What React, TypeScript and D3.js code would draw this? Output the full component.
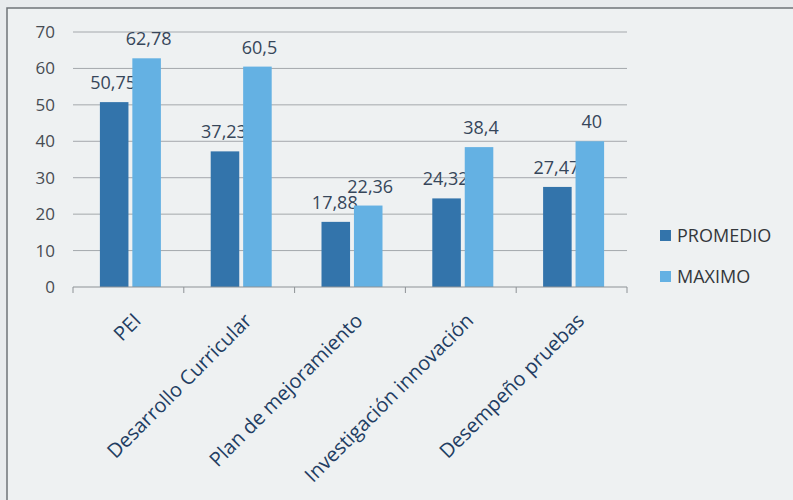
import React, { useEffect, useRef } from 'react';
import * as d3 from 'd3';

const categories = ['PEI', 'Desarrollo Curricular', 'Plan de mejoramiento', 'Investigación innovación', 'Desempeño pruebas'];
const promedio = [50.75, 37.23, 17.88, 24.32, 27.47];
const maximo = [62.78, 60.5, 22.36, 38.4, 40];
const promedioLabels = ['50,75', '37,23', '17,88', '24,32', '27,47'];
const maximoLabels = ['62,78', '60,5', '22,36', '38,4', '40'];
const seriesNames = ['PROMEDIO', 'MAXIMO'];
const yTicks = [0, 10, 20, 30, 40, 50, 60, 70];

const colors = ['#3374ab', '#64b1e3'];
const font = '"Open Sans", Lato, sans-serif';

const App = () => {
    const svgRef = useRef<SVGSVGElement | null>(null);
    const width = 793;
    const height = 500;

    useEffect(() => {
        if (!svgRef.current) return;
        const svg = d3.select(svgRef.current);
        svg.selectAll('*').remove();

        // background + frame
        svg.append('rect').attr('width', width).attr('height', height).attr('fill', '#e8ebed');
        svg.append('rect').attr('x', 7).attr('y', 8).attr('width', width).attr('height', height)
            .attr('fill', '#eef1f2').attr('stroke', '#6f7478').attr('stroke-width', 1.5);

        const left = 73, right = 627, top = 32, bottom = 287;

        const y = d3.scaleLinear().domain([0, 70]).range([bottom, top]);
        const x = d3.scaleBand<string>().domain(categories).range([left, right]).paddingInner(0).paddingOuter(0);
        const inner = d3.scaleBand<string>().domain(seriesNames).range([0, 61]).paddingInner(0.12);
        const groupOffset = (x.bandwidth() - 61) / 2 + 2;

        // gridlines
        svg.append('g').selectAll('line').data(yTicks.filter(t => t > 0)).enter().append('line')
            .attr('x1', left).attr('x2', right)
            .attr('y1', d => y(d)).attr('y2', d => y(d))
            .attr('stroke', '#a4a8ac').attr('stroke-width', 1);

        // y tick labels
        svg.append('g').selectAll('text').data(yTicks).enter().append('text')
            .attr('x', 55).attr('y', d => y(d)).attr('dy', '0.35em')
            .attr('text-anchor', 'end')
            .attr('font-family', font).attr('font-size', 17).attr('fill', '#474c52')
            .text(d => d);

        // bars
        const seriesData = [promedio, maximo];
        const seriesLabels = [promedioLabels, maximoLabels];
        seriesNames.forEach((name, si) => {
            const g = svg.append('g');
            g.selectAll('rect').data(categories).enter().append('rect')
                .attr('x', d => x(d)! + groupOffset + inner(name)!)
                .attr('y', (d, i) => y(seriesData[si][i]))
                .attr('width', inner.bandwidth())
                .attr('height', (d, i) => bottom - y(seriesData[si][i]))
                .attr('fill', colors[si]);
            g.selectAll('text').data(categories).enter().append('text')
                .attr('x', d => x(d)! + groupOffset + inner(name)! + inner.bandwidth() / 2 + (si === 1 ? 2 : -1))
                .attr('y', (d, i) => y(seriesData[si][i]) - 13)
                .attr('text-anchor', 'middle')
                .attr('font-family', font).attr('font-size', 18).attr('fill', '#36465a')
                .text((d, i) => seriesLabels[si][i]);
        });

        // x axis baseline + ticks
        svg.append('line').attr('x1', left).attr('x2', right).attr('y1', bottom).attr('y2', bottom)
            .attr('stroke', '#8d9296').attr('stroke-width', 1);
        const boundaries = categories.map(c => x(c)!).concat([right]);
        svg.append('g').selectAll('line').data(boundaries).enter().append('line')
            .attr('x1', d => d).attr('x2', d => d).attr('y1', bottom).attr('y2', bottom + 6)
            .attr('stroke', '#8d9296');

        // category labels rotated
        svg.append('g').selectAll('text').data(categories).enter().append('text')
            .attr('transform', d => `translate(${x(d)! + x.bandwidth() / 2 + 4},${bottom + 25}) rotate(-45)`)
            .attr('text-anchor', 'end')
            .attr('dy', '0.7em')
            .attr('font-family', font).attr('font-size', 20).attr('fill', '#223d62')
            .text(d => d);

        // legend
        const legend = svg.append('g').attr('transform', 'translate(660,235)');
        seriesNames.forEach((name, i) => {
            legend.append('rect').attr('x', 0).attr('y', i * 41 - 5).attr('width', 11).attr('height', 11).attr('fill', colors[i]);
            legend.append('text').attr('x', 17).attr('y', i * 41).attr('dy', '0.38em')
                .attr('font-family', font).attr('font-size', 18).attr('fill', '#33373b')
                .text(name);
        });
    }, []);

    return <svg ref={svgRef} width={width} height={height} style={{ position: 'absolute', left: 0, top: 0 }}></svg>;
};

export default App;
